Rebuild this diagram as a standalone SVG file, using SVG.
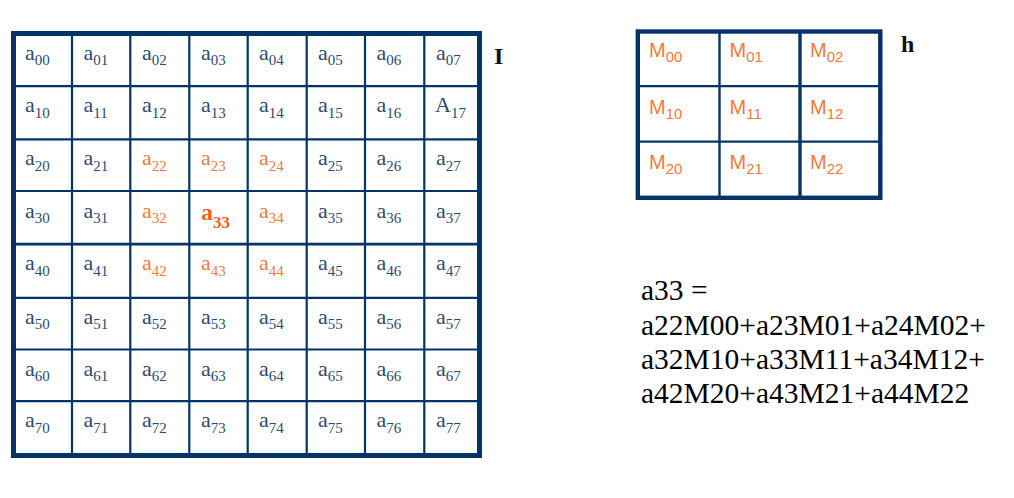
<svg xmlns="http://www.w3.org/2000/svg" width="1014" height="498" viewBox="0 0 1014 498">
<style>
.bg{fill:#ffffff}
.frame{fill:none;stroke:#043366}
.ln{stroke:#043366}
.c{font-family:"Liberation Serif","Times New Roman",serif;font-size:22px;fill:#2e4a70}
.o{fill:#f47a3a}
.b{font-weight:bold;font-size:24px;fill:#f0601e}
.s{font-size:15px}
.bs{font-size:17px}
.m{font-family:"Liberation Sans",Arial,sans-serif;font-size:20px;fill:#f47a3a}
.ms{font-size:15px}
.lbl{font-family:"Liberation Serif","Times New Roman",serif;font-size:24px;font-weight:bold;fill:#111111}
.eq{font-family:"Liberation Serif","Times New Roman",serif;font-size:29.5px;fill:#000000}
</style>
<rect class="bg" x="0" y="0" width="1014" height="498"/>

<g id="matrix-I">
  <g id="I-grid">
    <rect class="frame" x="13.5" y="33.5" width="466" height="422" stroke-width="5"/>
    <g class="ln" stroke-width="2.2">
      <line x1="72" y1="33.5" x2="72" y2="455.5"/>
      <line x1="130.3" y1="33.5" x2="130.3" y2="455.5"/>
      <line x1="189.3" y1="33.5" x2="189.3" y2="455.5"/>
      <line x1="247.7" y1="33.5" x2="247.7" y2="455.5"/>
      <line x1="306.7" y1="33.5" x2="306.7" y2="455.5"/>
      <line x1="365" y1="33.5" x2="365" y2="455.5"/>
      <line x1="424.3" y1="33.5" x2="424.3" y2="455.5"/>
      <line x1="13.5" y1="86.2" x2="479.5" y2="86.2"/>
      <line x1="13.5" y1="139.3" x2="479.5" y2="139.3"/>
      <line x1="13.5" y1="191" x2="479.5" y2="191"/>
      <line x1="13.5" y1="244.2" x2="479.5" y2="244.2" stroke-width="2.8"/>
      <line x1="13.5" y1="297.8" x2="479.5" y2="297.8"/>
      <line x1="13.5" y1="349.5" x2="479.5" y2="349.5"/>
      <line x1="13.5" y1="401.2" x2="479.5" y2="401.2"/>
    </g>
  </g>
  <g id="I-cells" class="c">
    <text x="25" y="59.5">a<tspan class="s" dy="5.5">00</tspan></text>
    <text x="83.5" y="59.5">a<tspan class="s" dy="5.5">01</tspan></text>
    <text x="142" y="59.5">a<tspan class="s" dy="5.5">02</tspan></text>
    <text x="201" y="59.5">a<tspan class="s" dy="5.5">03</tspan></text>
    <text x="259" y="59.5">a<tspan class="s" dy="5.5">04</tspan></text>
    <text x="318" y="59.5">a<tspan class="s" dy="5.5">05</tspan></text>
    <text x="376.5" y="59.5">a<tspan class="s" dy="5.5">06</tspan></text>
    <text x="436" y="59.5">a<tspan class="s" dy="5.5">07</tspan></text>

    <text x="25" y="112">a<tspan class="s" dy="5.5">10</tspan></text>
    <text x="83.5" y="112">a<tspan class="s" dy="5.5">11</tspan></text>
    <text x="142" y="112">a<tspan class="s" dy="5.5">12</tspan></text>
    <text x="201" y="112">a<tspan class="s" dy="5.5">13</tspan></text>
    <text x="259" y="112">a<tspan class="s" dy="5.5">14</tspan></text>
    <text x="318" y="112">a<tspan class="s" dy="5.5">15</tspan></text>
    <text x="376.5" y="112">a<tspan class="s" dy="5.5">16</tspan></text>
    <text x="435" y="112">A<tspan class="s" dy="5.5">17</tspan></text>

    <text x="25" y="165">a<tspan class="s" dy="5.5">20</tspan></text>
    <text x="83.5" y="165">a<tspan class="s" dy="5.5">21</tspan></text>
    <text x="142" y="165" class="o">a<tspan class="s" dy="5.5">22</tspan></text>
    <text x="201" y="165" class="o">a<tspan class="s" dy="5.5">23</tspan></text>
    <text x="259" y="165" class="o">a<tspan class="s" dy="5.5">24</tspan></text>
    <text x="318" y="165">a<tspan class="s" dy="5.5">25</tspan></text>
    <text x="376.5" y="165">a<tspan class="s" dy="5.5">26</tspan></text>
    <text x="436" y="165">a<tspan class="s" dy="5.5">27</tspan></text>

    <text x="25" y="217.5">a<tspan class="s" dy="5.5">30</tspan></text>
    <text x="83.5" y="217.5">a<tspan class="s" dy="5.5">31</tspan></text>
    <text x="142" y="217.5" class="o">a<tspan class="s" dy="5.5">32</tspan></text>
    <text x="201" y="219.5" class="b">a<tspan class="bs" dy="8">33</tspan></text>
    <text x="259" y="217.5" class="o">a<tspan class="s" dy="5.5">34</tspan></text>
    <text x="318" y="217.5">a<tspan class="s" dy="5.5">35</tspan></text>
    <text x="376.5" y="217.5">a<tspan class="s" dy="5.5">36</tspan></text>
    <text x="436" y="217.5">a<tspan class="s" dy="5.5">37</tspan></text>

    <text x="25" y="270">a<tspan class="s" dy="5.5">40</tspan></text>
    <text x="83.5" y="270">a<tspan class="s" dy="5.5">41</tspan></text>
    <text x="142" y="270" class="o">a<tspan class="s" dy="5.5">42</tspan></text>
    <text x="201" y="270" class="o">a<tspan class="s" dy="5.5">43</tspan></text>
    <text x="259" y="270" class="o">a<tspan class="s" dy="5.5">44</tspan></text>
    <text x="318" y="270">a<tspan class="s" dy="5.5">45</tspan></text>
    <text x="376.5" y="270">a<tspan class="s" dy="5.5">46</tspan></text>
    <text x="436" y="270">a<tspan class="s" dy="5.5">47</tspan></text>

    <text x="25" y="323.5">a<tspan class="s" dy="5.5">50</tspan></text>
    <text x="83.5" y="323.5">a<tspan class="s" dy="5.5">51</tspan></text>
    <text x="142" y="323.5">a<tspan class="s" dy="5.5">52</tspan></text>
    <text x="201" y="323.5">a<tspan class="s" dy="5.5">53</tspan></text>
    <text x="259" y="323.5">a<tspan class="s" dy="5.5">54</tspan></text>
    <text x="318" y="323.5">a<tspan class="s" dy="5.5">55</tspan></text>
    <text x="376.5" y="323.5">a<tspan class="s" dy="5.5">56</tspan></text>
    <text x="436" y="323.5">a<tspan class="s" dy="5.5">57</tspan></text>

    <text x="25" y="375.5">a<tspan class="s" dy="5.5">60</tspan></text>
    <text x="83.5" y="375.5">a<tspan class="s" dy="5.5">61</tspan></text>
    <text x="142" y="375.5">a<tspan class="s" dy="5.5">62</tspan></text>
    <text x="201" y="375.5">a<tspan class="s" dy="5.5">63</tspan></text>
    <text x="259" y="375.5">a<tspan class="s" dy="5.5">64</tspan></text>
    <text x="318" y="375.5">a<tspan class="s" dy="5.5">65</tspan></text>
    <text x="376.5" y="375.5">a<tspan class="s" dy="5.5">66</tspan></text>
    <text x="436" y="375.5">a<tspan class="s" dy="5.5">67</tspan></text>

    <text x="25" y="427">a<tspan class="s" dy="5.5">70</tspan></text>
    <text x="83.5" y="427">a<tspan class="s" dy="5.5">71</tspan></text>
    <text x="142" y="427">a<tspan class="s" dy="5.5">72</tspan></text>
    <text x="201" y="427">a<tspan class="s" dy="5.5">73</tspan></text>
    <text x="259" y="427">a<tspan class="s" dy="5.5">74</tspan></text>
    <text x="318" y="427">a<tspan class="s" dy="5.5">75</tspan></text>
    <text x="376.5" y="427">a<tspan class="s" dy="5.5">76</tspan></text>
    <text x="436" y="427">a<tspan class="s" dy="5.5">77</tspan></text>
  </g>
  <text id="label-I" class="lbl" x="494" y="64">I</text>
</g>

<g id="matrix-h">
  <g id="h-grid">
    <rect class="frame" x="637.8" y="31.5" width="242.5" height="166.3" stroke-width="4.4"/>
    <line class="ln" x1="719.5" y1="31.5" x2="719.5" y2="197.8" stroke-width="2.4"/>
    <line class="ln" x1="800" y1="31.5" x2="800" y2="197.8" stroke-width="3.4"/>
    <line class="ln" x1="637.8" y1="86.2" x2="880.3" y2="86.2" stroke-width="2.3"/>
    <line class="ln" x1="637.8" y1="141.7" x2="880.3" y2="141.7" stroke-width="2.2"/>
  </g>
  <g id="h-cells" class="m">
    <text x="649" y="56.7">M<tspan class="ms" dy="5">00</tspan></text>
    <text x="729.5" y="56.7">M<tspan class="ms" dy="5">01</tspan></text>
    <text x="810" y="56.7">M<tspan class="ms" dy="5">02</tspan></text>
    <text x="649" y="114">M<tspan class="ms" dy="5">10</tspan></text>
    <text x="729.5" y="114">M<tspan class="ms" dy="5">11</tspan></text>
    <text x="810" y="114">M<tspan class="ms" dy="5">12</tspan></text>
    <text x="649" y="169.3">M<tspan class="ms" dy="5">20</tspan></text>
    <text x="729.5" y="169.3">M<tspan class="ms" dy="5">21</tspan></text>
    <text x="810" y="169.3">M<tspan class="ms" dy="5">22</tspan></text>
  </g>
  <text id="label-h" class="lbl" x="901" y="52">h</text>
</g>

<g id="equation" class="eq">
  <text x="641" y="300">a33 =</text>
  <text x="641" y="335">a22M00+a23M01+a24M02+</text>
  <text x="641" y="369">a32M10+a33M11+a34M12+</text>
  <text x="641" y="403">a42M20+a43M21+a44M22</text>
</g>
</svg>
